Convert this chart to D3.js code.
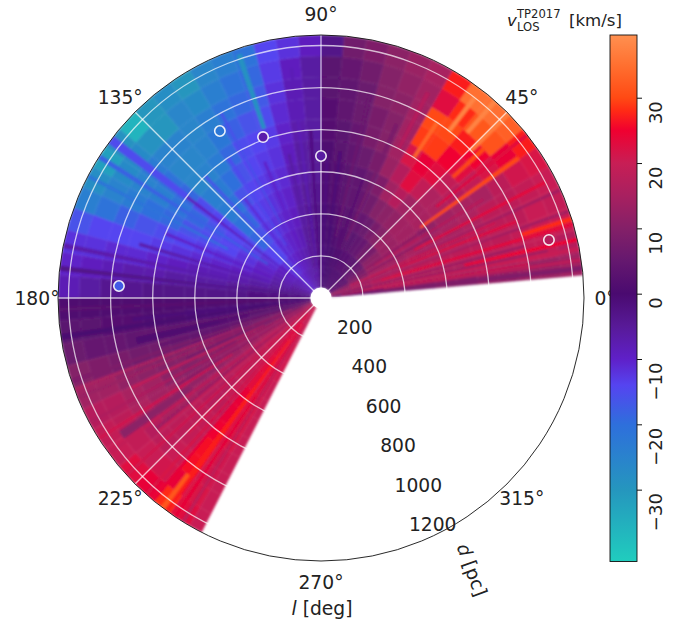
<!DOCTYPE html>
<html><head><meta charset="utf-8">
<script src="https://cdn.jsdelivr.net/npm/d3@7/dist/d3.min.js"></script>
<style>html,body{margin:0;padding:0;background:#fff}svg{display:block}text{font-family:"DejaVu Sans",sans-serif;fill:#222}</style>
</head><body><div id="chart"></div>
<script>
// distance bin edges [pc]
const distanceEdges = [50,150,250,350,450,550,650,750,850,950,1050,1150,1250];
// lower longitude edge of each row [deg]
const longitudeEdges = [5,10,15,20,25,30,35,40,45,50,55,60,65,70,75,80,85,90,95,100,105,110,115,120,125,130,135,140,145,150,155,160,165,170,175,180,185,190,195,200,205,210,215,220,225,230,235,240,243];
// v_LOS [km/s], one row per longitude bin, one column per distance bin
const vlos = [
[3,4,6,8,8,10,10,12,12,13,13,14],
[10,12,15,16,16,16,16,17,18,19,19,17],
[14,15,17,18,18,18,18,18,18,19,20,20],
[12,14,15,15,16,16,16,17,18,18,20,19],
[8,11,14,14,15,15,15,16,18,18,19,20],
[3,8,13,14,14,12,14,15,15,18,21,22],
[4,6,11,13,14,15,16,17,19,22,24,27],
[3,5,8,13,14,15,16,19,23,25,31,33],
[2,3,7,10,12,14,19,23,25,27,32,35],
[1,3,5,8,11,17,23,24,29,30,28,35],
[1,2,4,6,10,14,17,22,29,30,23,27],
[1,2,3,5,7,9,13,14,14,14,14,15],
[1,1,3,4,5,6,8,10,10,11,12,13],
[0,1,2,3,4,4,6,8,8,10,10,11],
[0,0,1,2,3,3,4,5,6,6,7,9],
[0,0,0,1,2,2,3,3,4,4,5,7],
[-1,-1,0,0,1,1,1,2,2,3,3,-3],
[-4,-3,-3,-3,-4,-5,-5,-6,-6,-6,-6,-9],
[-5,-4,-4,-4,-5,-6,-6,-7,-8,-8,-9,-12],
[-6,-5,-5,-6,-7,-8,-9,-10,-11,-12,-13,-14],
[-7,-7,-8,-9,-10,-11,-12,-13,-15,-17,-19,-21],
[-7,-8,-9,-10,-11,-12,-13,-14,-16,-19,-21,-24],
[-8,-9,-10,-11,-12,-13,-14,-15,-18,-21,-24,-26],
[-9,-10,-11,-12,-13,-14,-16,-19,-22,-24,-27,-30],
[-10,-11,-12,-13,-14,-16,-20,-23,-25,-26,-26,-28],
[-11,-12,-14,-16,-19,-21,-23,-25,-26,-25,-30,-30],
[-11,-12,-14,-19,-21,-23,-24,-26,-26,-25,-29,-36],
[-8,-10,-13,-15,-14,-14,-15,-19,-21,-23,-27,-29],
[-8,-9,-11,-13,-14,-16,-19,-21,-24,-25,-27,-32],
[-7,-8,-10,-12,-14,-15,-16,-19,-20,-23,-25,-28],
[-6,-7,-9,-11,-12,-13,-14,-15,-16,-18,-21,-24],
[-5,-6,-8,-9,-10,-11,-12,-13,-14,-14,-14,-16],
[-4,-5,-6,-7,-8,-8,-9,-10,-11,-11,-12,-12],
[-3,-3,-4,-5,-6,-6,-6,-7,-7,-8,-9,-10],
[-2,-2,-2,-3,-3,-3,-3,-3,-4,-4,-6,-8],
[0,1,1,1,1,1,1,1,1,1,1,1],
[1,1,0,-1,-1,-1,1,1,2,2,3,3],
[3,3,3,2,2,3,3,4,4,5,5,6],
[5,5,6,6,5,5,6,7,7,8,9,10],
[8,10,9,8,9,10,10,10,11,12,14,14],
[12,12,11,12,11,12,10,11,14,15,17,17],
[14,15,15,14,13,12,12,14,14,16,18,19],
[16,17,17,16,15,15,14,15,15,17,19,20],
[18,19,19,18,18,17,17,18,18,18,20,23],
[19,20,20,20,19,19,18,19,19,20,21,24],
[20,22,22,23,23,24,24,25,26,26,24,28],
[20,22,21,21,21,22,22,22,21,21,22,23],
[20,20,21,21,20,20,20,20,20,20,20,20]
];
// narrow streaks: l from, l to, d from, d to, v
const streaks = [
[34.8,35.8,580,1150,30],[16,16.7,300,1250,24],[12.5,13.2,700,1250,25],[17,18,1000,1250,28],
[21,21.7,400,1000,23],[27,27.6,500,1200,24],[9,9.6,100,1000,21],[42,43,850,1050,30],
[52,53,1000,1200,38],[48,49,1050,1250,38],[44,45,1000,1250,37],[56,57,800,1000,34],
[142.5,143.5,150,800,-9],[142,144,800,1250,-15],[108,109.2,850,1220,-29],[192,194,500,900,1],[186,187,100,900,-1],
[205,205.7,300,1000,19],[212,212.7,500,1250,21],[207,209,450,650,10],[213.5,215.5,750,1150,11],
[233,234.5,250,1250,27],[232.5,233.5,1050,1250,32],[225,225.7,200,900,22],[219,219.7,300,1000,20],
[200,200.7,400,1250,15],[38,38.7,700,1250,23],[62,63,800,1100,17],[118,118.7,400,1000,-16],[152,152.7,500,1250,-21],
[6,7,60,1250,9],[8,8.7,300,1250,18],[10.5,11.2,200,1250,20],[11.5,12,400,1100,13],[14,14.6,150,1000,13],
[19,19.6,200,1250,14],[23,23.6,150,900,21],[24,24.6,500,1250,14],[28.5,29.2,200,600,10],[31,31.6,300,900,18],[33,33.6,200,600,10],
[70,71,200,600,2],[76,77,300,1000,6],[82,83,100,700,-1],[87,88,100,700,-2],[66,67,300,900,8],
[93,94,100,800,-2],[97,97.7,100,1100,-8],[102,103,200,700,-6],[112,113,300,700,-10],[123,124,300,800,-15],
[127,128,200,600,-11],[133,134,200,800,-16],[147,148,300,1250,-18],[157,158,300,800,-10],[163,164,300,900,-7],
[168,169,400,1250,-7],[173,174,200,1250,-3],
[182,183,100,1250,3],[188,189,300,1250,0],[191,191.7,200,900,5],[196,196.7,150,800,4],[198,198.8,200,1250,9],
[202,202.7,150,1250,13],[204,204.7,100,700,7],[208,208.6,100,1250,16],[211,211.6,100,800,10],[216,216.6,100,1250,19],
[218,218.7,100,1000,13],[222,222.7,100,1250,21],[228,228.7,100,1250,22],[230,230.7,100,1250,24],[236,236.7,200,1250,24],[238,238.7,100,1250,18]
];
// open markers: l, d, v
const markerL = [176.6,121.2,109.8,90,14.3];
const markerD = [962,928,813,675,1118];
const markerV = [-17,-22,-7,-6,17];
// axis ticks
const radialTicks = [200,400,600,800,1000,1200];
const angleTicks = [0,45,90,135,180,225,270,315];
const colorTicks = [-30,-20,-10,0,10,20,30];
// colormap stops
const cmapValues = [-41,-30,-20,-14,-10,-5,0,5,10,15,20,25,28,30,35,39.6];
const cmapColors = ["#20cdbe","#2596be","#2e6fdc","#5544f0","#5f20c8","#581a98","#4a0a70","#65186f","#842068","#a82060","#c81e55","#f00030","#ff2a15","#ff4a14","#ff7030","#ff9050"];

const W=691,H=623,cx=321,cy=298,R=263;
const svg=d3.select("#chart").append("svg").attr("width",W).attr("height",H);
const color=d3.scaleLinear().domain(cmapValues).range(cmapColors).interpolate(d3.interpolateRgb).clamp(true);
const rs=d3.scaleLinear().domain([0,1250]).range([0,R]);
const ang=d3.scaleLinear().domain([0,360]).range([Math.PI/2,Math.PI/2-2*Math.PI]);
const arc=d3.arc();
const polar=(l,r)=>[cx+r*Math.cos(l*Math.PI/180),cy-r*Math.sin(l*Math.PI/180)];

const defs=svg.append("defs");
defs.append("clipPath").attr("id","disc").append("circle").attr("cx",cx).attr("cy",cy).attr("r",R);
defs.append("filter").attr("id","soft").attr("x","-5%").attr("y","-5%").attr("width","110%").attr("height","110%")
  .append("feGaussianBlur").attr("stdDeviation",0.8);
const plot=svg.append("g").attr("clip-path","url(#disc)");
const mesh=plot.append("g").attr("transform",`translate(${cx},${cy})`).attr("filter","url(#soft)");
const cells=[];
vlos.forEach((row,i)=>row.forEach((v,j)=>cells.push({l0:longitudeEdges[i],l1:longitudeEdges[i+1],d0:distanceEdges[j],d1:distanceEdges[j+1],v})));
streaks.forEach(s=>cells.push({l0:s[0],l1:s[1],d0:s[2],d1:s[3],v:s[4]}));
const cellPath=d=>arc({innerRadius:rs(d.d0),outerRadius:rs(d.d1),startAngle:ang(d.l0),endAngle:ang(d.l1)});
mesh.selectAll("path").data(cells).join("path").attr("d",cellPath)
  .attr("fill",d=>color(d.v)).attr("stroke",d=>color(d.v)).attr("stroke-width",0.4);

// grid
const grid=plot.append("g").attr("stroke","#fff").attr("stroke-opacity",0.7).attr("stroke-width",1.3).attr("fill","none");
grid.selectAll("circle").data(radialTicks).join("circle").attr("cx",cx).attr("cy",cy).attr("r",d=>rs(d));
grid.selectAll("line").data(angleTicks).join("line")
  .attr("x1",cx).attr("y1",cy).attr("x2",d=>polar(d,R)[0]).attr("y2",d=>polar(d,R)[1]);
// hole
svg.append("circle").attr("cx",cx).attr("cy",cy).attr("r",rs(50)).attr("fill","#fff");
svg.append("circle").attr("cx",cx).attr("cy",cy).attr("r",R).attr("fill","none").attr("stroke","#111").attr("stroke-width",0.9);

// markers
svg.append("g").selectAll("circle").data(markerL).join("circle")
  .attr("cx",(d,i)=>polar(d,rs(markerD[i]))[0]).attr("cy",(d,i)=>polar(d,rs(markerD[i]))[1])
  .attr("r",5.2).attr("fill",(d,i)=>color(markerV[i])).attr("stroke","#fff").attr("stroke-opacity",0.9).attr("stroke-width",1.6);

// angular labels
const fs=18.7;
svg.append("g").selectAll("text").data(angleTicks).join("text")
  .attr("x",d=>polar(d,284)[0]).attr("y",d=>polar(d,284)[1]+6.5)
  .attr("text-anchor","middle").attr("font-size",fs).text(d=>d+"°");
// radial labels
const rAng=-70;
svg.append("g").selectAll("text").data(radialTicks).join("text")
  .attr("x",d=>polar(rAng,rs(d))[0]+1.6).attr("y",d=>polar(rAng,rs(d))[1]-4)
  .attr("font-size",fs).text(d=>d);
svg.append("text").attr("transform","translate(472,570) rotate(70)").attr("text-anchor","middle").attr("dy","0.35em").attr("font-size",fs)
  .html('<tspan font-style="italic">d</tspan> [pc]');
svg.append("text").attr("x",322).attr("y",614.5).attr("text-anchor","middle").attr("font-size",fs)
  .html('<tspan font-style="italic">l</tspan> [deg]');

// colorbar
const cbX=610,cbW=27,cbTop=35,cbBot=561.5;
const cb=d3.scaleLinear().domain([-41,39.6]).range([cbBot,cbTop]);
const grad=defs.append("linearGradient").attr("id","cbar").attr("x1",0).attr("x2",0).attr("y1",1).attr("y2",0);
grad.selectAll("stop").data(cmapValues).join("stop")
  .attr("offset",d=>(d+41)/80.6).attr("stop-color",d=>color(d));
svg.append("rect").attr("x",cbX).attr("y",cbTop).attr("width",cbW).attr("height",cbBot-cbTop)
  .attr("fill","url(#cbar)").attr("stroke","#111").attr("stroke-width",0.9);
const axis=svg.append("g").attr("transform",`translate(${cbX+cbW},0)`)
  .call(d3.axisRight(cb).tickValues(colorTicks).tickSize(5).tickPadding(0).tickFormat(d=>d<0?"\u2212"+(-d):d));
axis.select(".domain").remove();
axis.selectAll("line").attr("stroke","#111");
axis.selectAll("text").attr("font-size",18).attr("font-family","'DejaVu Sans'").attr("fill","#222")
  .attr("text-anchor","end").attr("x",0).attr("y",0).attr("dy","0.35em")
  .attr("transform","translate(18.5,3) rotate(-90)");

// colorbar title
const t=svg.append("g");
t.append("text").attr("x",507).attr("y",26).attr("font-style","italic").attr("font-size",16.6).text("v");
t.append("text").attr("x",517).attr("y",18).attr("font-size",11.6).text("TP2017");
t.append("text").attr("x",517).attr("y",31).attr("font-size",11.6).text("LOS");
t.append("text").attr("x",569).attr("y",26).attr("font-size",16.6).text("[km/s]");
</script></body></html>
